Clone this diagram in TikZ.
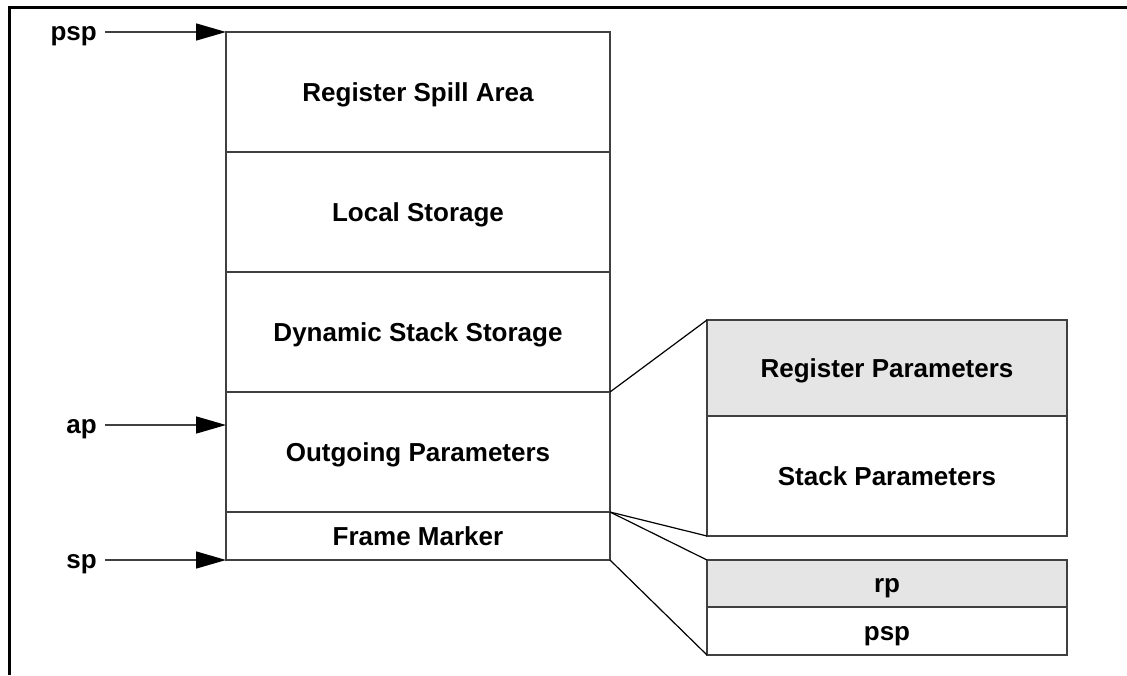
\documentclass[tikz,border=0pt]{standalone}
\usepackage{fontspec}
\setmainfont{Liberation Sans}
\usetikzlibrary{positioning}
\usetikzlibrary{arrows.meta}

\begin{document}
\begin{tikzpicture}[x=1pt,y=-1pt,
  cell/.style={draw=black!75,line width=1.5pt,rectangle,inner sep=0pt,outer sep=0pt,
    minimum width=384pt,text height=18.5pt,text depth=0pt,
    font=\fontsize{26}{30}\selectfont\bfseries},
  shade/.style={fill=black!10},
  ptr/.style={font=\fontsize{26}{30}\selectfont\bfseries,anchor=base east,
    inner xsep=8pt,inner ysep=0pt},
  link/.style={draw=black!75,line width=1.5pt,
    -{Triangle[length=30pt,width=17pt,color=black,fill=black]}},
  zoomline/.style={draw=black,line width=1.2pt}]
 \useasboundingbox (0,0) rectangle (1127,675);
 \draw[line width=3pt] (9.5,675) -- (9.5,7.5) -- (1127,7.5);
 % stack frame
 \node[cell,minimum height=120pt,anchor=north west] (spill) at (226,32) {Register Spill Area};
 \node[cell,minimum height=120pt,below=0pt of spill] (local) {Local Storage};
 \node[cell,minimum height=120pt,below=0pt of local] (dyn) {Dynamic Stack Storage};
 \node[cell,minimum height=120pt,below=0pt of dyn] (out) {Outgoing Parameters};
 \node[cell,minimum height=48pt,below=0pt of out] (marker) {Frame Marker};
 % expanded parts
 \node[cell,shade,minimum width=360pt,minimum height=96pt,anchor=north west] (regp) at (707,320) {Register Parameters};
 \node[cell,minimum width=360pt,minimum height=120pt,below=0pt of regp] (stkp) {Stack Parameters};
 \node[cell,shade,minimum width=360pt,minimum height=47pt,anchor=north west] (rp) at (707,560) {rp};
 \node[cell,minimum width=360pt,minimum height=48pt,below=0pt of rp] (oldpsp) {psp};
 % pointers
 \node[ptr] (psp) at (105,40) {psp};
 \node[ptr] (ap) at (105,433) {ap};
 \node[ptr] (sp) at (105,568) {sp};
 \coordinate (apat) at (226,425);
 \draw[link] (psp.east |- spill.north west) -- (spill.north west);
 \draw[link] (ap.east |- apat) -- (apat);
 \draw[link] (sp.east |- marker.south west) -- (marker.south west);
 % zoom lines
 \draw[zoomline] (out.north east) -- (regp.north west);
 \draw[zoomline] (marker.north east) -- (stkp.south west);
 \draw[zoomline] (marker.north east) -- (rp.north west);
 \draw[zoomline] (marker.south east) -- (oldpsp.south west);
\end{tikzpicture}
\end{document}
